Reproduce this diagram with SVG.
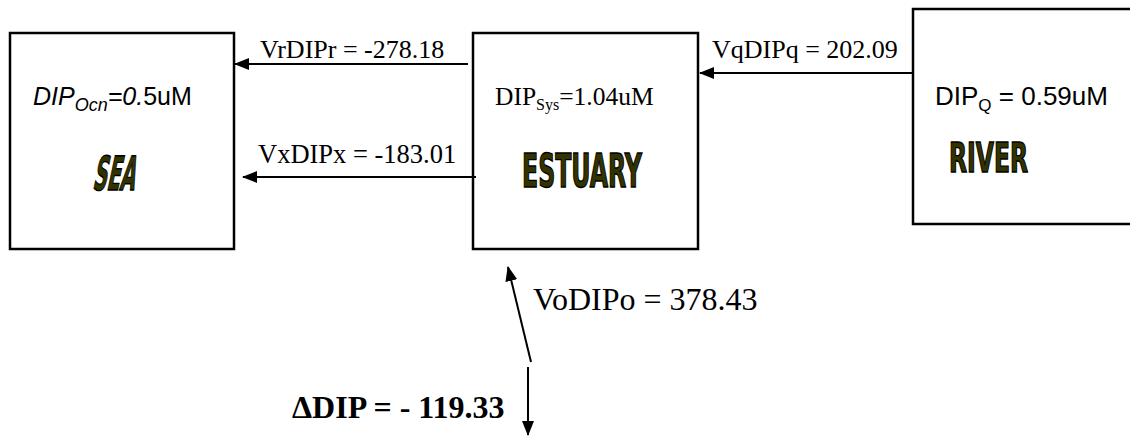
<svg xmlns="http://www.w3.org/2000/svg" width="1130" height="436" viewBox="0 0 1130 436">
<defs>
<marker id="ah" viewBox="0 0 15 12" refX="14" refY="6" markerWidth="15" markerHeight="12" markerUnits="userSpaceOnUse" orient="auto">
<path d="M0,0 L15,6 L0,12 z" fill="#000"/>
</marker>
<style>
.box{fill:#fff;stroke:#000;stroke-width:2.5}
.conn{stroke:#000;stroke-width:2;fill:none;marker-end:url(#ah)}
.tnr{font-family:"Liberation Serif","Times New Roman",serif;fill:#000}
.ar{font-family:"Liberation Sans",Arial,sans-serif;fill:#000}
.big{font-family:"Liberation Sans Narrow","DejaVu Sans Condensed","Liberation Sans",sans-serif;font-weight:bold;fill:#333300;stroke:#000;stroke-width:1.4}
</style>
</defs>
<g id="sea">
<rect class="box" x="10" y="33" width="224" height="216"/>
<text class="ar" x="33" y="105" font-size="25"><tspan font-style="italic">DIP</tspan><tspan font-style="italic" font-size="18" dy="6">Ocn</tspan><tspan font-style="italic" dy="-6">=0.</tspan>5uM</text>
<text class="big" x="92" y="190" font-size="47" transform="translate(92 190) skewX(-12) translate(-92 -190)" textLength="42" lengthAdjust="spacingAndGlyphs">SEA</text>
</g>
<g id="estuary">
<rect class="box" x="473" y="33" width="225" height="216"/>
<text class="tnr" x="495" y="105" font-size="25.5">DIP<tspan font-size="16" dy="5">Sys</tspan><tspan dy="-5">=1.04uM</tspan></text>
<text class="big" x="522" y="187" font-size="46" textLength="120" lengthAdjust="spacingAndGlyphs">ESTUARY</text>
</g>
<g id="river">
<rect class="box" x="913" y="9" width="300" height="215"/>
<text class="ar" x="935" y="105" font-size="26">DIP<tspan font-size="17" dy="6">Q</tspan><tspan dy="-6"> = 0.59uM</tspan></text>
<text class="big" x="949" y="172" font-size="40" textLength="79" lengthAdjust="spacingAndGlyphs">RIVER</text>
</g>
<g id="connectors">
<line class="conn" x1="468" y1="64" x2="235" y2="64"/>
<line class="conn" x1="476" y1="177" x2="243" y2="177"/>
<line class="conn" x1="913" y1="73" x2="700" y2="73"/>
<line class="conn" x1="531" y1="362" x2="508" y2="267"/>
<line class="conn" x1="528" y1="367" x2="528" y2="435"/>
</g>
<g id="labels">
<text class="tnr" x="260" y="58" font-size="26">VrDIPr = -278.18</text>
<text class="tnr" x="258" y="163" font-size="26.5">VxDIPx = -183.01</text>
<text class="tnr" x="712" y="58" font-size="26">VqDIPq = 202.09</text>
<text class="tnr" x="533" y="310" font-size="32">VoDIPo = 378.43</text>
<text class="tnr" x="292" y="418" font-size="32" font-weight="bold">ΔDIP = - 119.33</text>
</g>
</svg>
